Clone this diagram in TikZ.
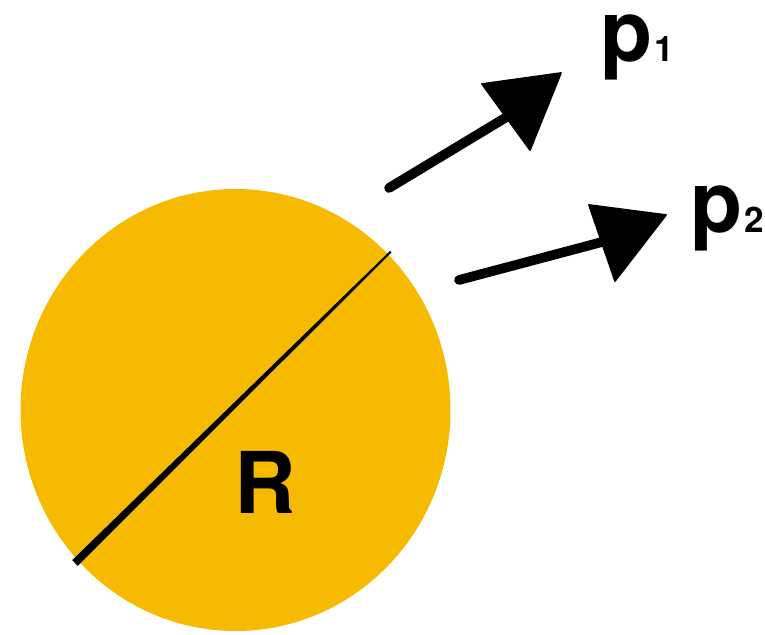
\documentclass[tikz,border=0pt]{standalone}
\usepackage{fontspec}
\setmainfont{TeX Gyre Heros}
\usepackage{xcolor}
\usetikzlibrary{positioning,calc}
\definecolor{sunyellow}{RGB}{246,187,0}

\begin{document}
\begin{tikzpicture}[
  x=0.02cm, y=-0.02cm,
  disc/.style={fill=sunyellow},
  shaft/.style={line width=5.5pt, line cap=round, black},
  tiphead/.style={fill=black, draw=black, line width=1pt, line join=round},
  biglbl/.style={font=\bfseries\fontsize{48.5}{50}\selectfont, inner sep=0pt},
  sublbl/.style={font=\bfseries\fontsize{20}{22}\selectfont, inner sep=0pt},
]
\useasboundingbox (0,0) rectangle (765,635);

% --- disc and its diameter ---
\fill[disc] (235.5,410) ellipse [x radius=215, y radius=221];
\coordinate (dlow) at (75,563);
\coordinate (dhigh) at (390.7,251.7);
\fill[black] ($(dlow)+(-2.8,-2.85)$) -- ($(dhigh)+(-0.7,-0.7)$)
  -- ($(dhigh)+(0.7,0.7)$) -- ($(dlow)+(2.8,2.85)$) -- cycle;
\node[biglbl] (rlbl) at (265.5,482.5) {R};

% --- momentum p1 ---
\coordinate (t1) at (389,188);
\coordinate (b1) at (505,118);
\draw[shaft] (t1) -- (b1);
\coordinate (h1a) at (482,84);
\coordinate (h1tip) at (561,73);
\coordinate (h1b) at (530,150);
\filldraw[tiphead] (h1a) -- (h1tip) -- (h1b) -- cycle;
\node[biglbl, anchor=base west] (p1lbl) at (600,62) {p};
\node[sublbl, anchor=base west, xshift=1pt] (p1sub) at (p1lbl.base east) {1};

% --- momentum p2 ---
\coordinate (t2) at (459,280);
\coordinate (b2) at (602,242);
\draw[shaft] (t2) -- (b2);
\coordinate (h2a) at (589,205);
\coordinate (h2tip) at (666,215);
\coordinate (h2b) at (615,281);
\filldraw[tiphead] (h2a) -- (h2tip) -- (h2b) -- cycle;
\node[biglbl, anchor=base west] (p2lbl) at (690,233) {p};
\node[sublbl, anchor=base west, xshift=1pt] (p2sub) at (p2lbl.base east) {2};

\end{tikzpicture}
\end{document}
